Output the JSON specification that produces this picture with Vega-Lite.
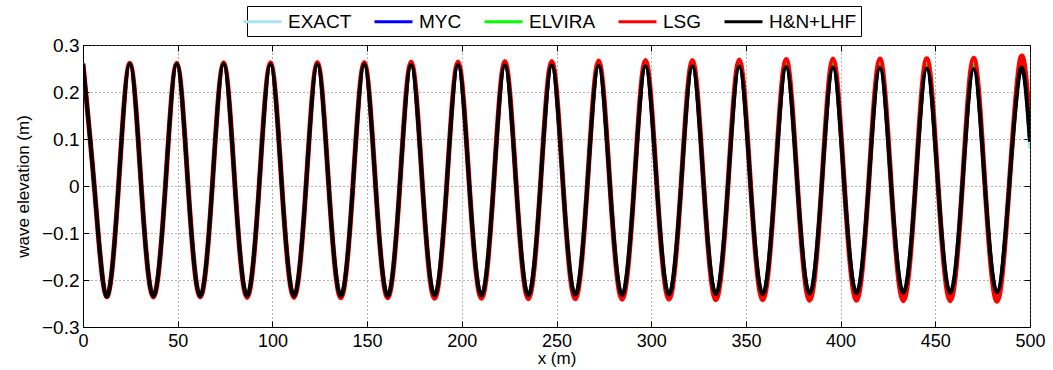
{
  "$schema": "https://vega.github.io/schema/vega-lite/v6.json",
  "width": 947,
  "height": 282,
  "autosize": "none",
  "padding": {"left": 83, "top": 45, "right": 23, "bottom": 43},
  "background": "white",
  "config": {"view": {"stroke": "black", "strokeWidth": 1}},
  "data": {"values": [
    {"x": 0, "EXACT": 0.26, "MYC": 0.26, "ELVIRA": 0.26, "LSG": 0.26, "H&N+LHF": 0.26},
    {"x": 6.19, "EXACT": -0.012, "MYC": -0.012, "ELVIRA": -0.012, "LSG": -0.012, "H&N+LHF": -0.012},
    {"x": 12.38, "EXACT": -0.235, "MYC": -0.235, "ELVIRA": -0.235, "LSG": -0.235, "H&N+LHF": -0.235},
    {"x": 18.56, "EXACT": -0.012, "MYC": -0.012, "ELVIRA": -0.012, "LSG": -0.012, "H&N+LHF": -0.012},
    {"x": 24.75, "EXACT": 0.26, "MYC": 0.26, "ELVIRA": 0.26, "LSG": 0.261, "H&N+LHF": 0.26},
    {"x": 30.94, "EXACT": -0.012, "MYC": -0.012, "ELVIRA": -0.012, "LSG": -0.012, "H&N+LHF": -0.012},
    {"x": 37.13, "EXACT": -0.235, "MYC": -0.235, "ELVIRA": -0.235, "LSG": -0.236, "H&N+LHF": -0.235},
    {"x": 43.31, "EXACT": -0.012, "MYC": -0.012, "ELVIRA": -0.012, "LSG": -0.012, "H&N+LHF": -0.012},
    {"x": 49.5, "EXACT": 0.26, "MYC": 0.259, "ELVIRA": 0.26, "LSG": 0.261, "H&N+LHF": 0.26},
    {"x": 55.69, "EXACT": -0.012, "MYC": -0.012, "ELVIRA": -0.012, "LSG": -0.012, "H&N+LHF": -0.012},
    {"x": 61.88, "EXACT": -0.235, "MYC": -0.235, "ELVIRA": -0.235, "LSG": -0.236, "H&N+LHF": -0.235},
    {"x": 68.06, "EXACT": -0.012, "MYC": -0.012, "ELVIRA": -0.012, "LSG": -0.012, "H&N+LHF": -0.012},
    {"x": 74.25, "EXACT": 0.26, "MYC": 0.259, "ELVIRA": 0.26, "LSG": 0.262, "H&N+LHF": 0.26},
    {"x": 80.44, "EXACT": -0.012, "MYC": -0.012, "ELVIRA": -0.012, "LSG": -0.012, "H&N+LHF": -0.012},
    {"x": 86.63, "EXACT": -0.235, "MYC": -0.234, "ELVIRA": -0.235, "LSG": -0.237, "H&N+LHF": -0.234},
    {"x": 92.81, "EXACT": -0.012, "MYC": -0.012, "ELVIRA": -0.012, "LSG": -0.012, "H&N+LHF": -0.012},
    {"x": 99, "EXACT": 0.26, "MYC": 0.259, "ELVIRA": 0.26, "LSG": 0.262, "H&N+LHF": 0.259},
    {"x": 105.19, "EXACT": -0.012, "MYC": -0.012, "ELVIRA": -0.012, "LSG": -0.012, "H&N+LHF": -0.012},
    {"x": 111.38, "EXACT": -0.235, "MYC": -0.234, "ELVIRA": -0.235, "LSG": -0.237, "H&N+LHF": -0.234},
    {"x": 117.56, "EXACT": -0.012, "MYC": -0.012, "ELVIRA": -0.012, "LSG": -0.012, "H&N+LHF": -0.012},
    {"x": 123.75, "EXACT": 0.26, "MYC": 0.258, "ELVIRA": 0.26, "LSG": 0.263, "H&N+LHF": 0.259},
    {"x": 129.94, "EXACT": -0.012, "MYC": -0.012, "ELVIRA": -0.012, "LSG": -0.012, "H&N+LHF": -0.012},
    {"x": 136.13, "EXACT": -0.235, "MYC": -0.234, "ELVIRA": -0.235, "LSG": -0.238, "H&N+LHF": -0.234},
    {"x": 142.31, "EXACT": -0.012, "MYC": -0.012, "ELVIRA": -0.012, "LSG": -0.012, "H&N+LHF": -0.012},
    {"x": 148.5, "EXACT": 0.26, "MYC": 0.258, "ELVIRA": 0.26, "LSG": 0.263, "H&N+LHF": 0.259},
    {"x": 154.69, "EXACT": -0.012, "MYC": -0.012, "ELVIRA": -0.012, "LSG": -0.012, "H&N+LHF": -0.012},
    {"x": 160.88, "EXACT": -0.235, "MYC": -0.233, "ELVIRA": -0.235, "LSG": -0.238, "H&N+LHF": -0.234},
    {"x": 167.06, "EXACT": -0.012, "MYC": -0.012, "ELVIRA": -0.012, "LSG": -0.012, "H&N+LHF": -0.012},
    {"x": 173.25, "EXACT": 0.26, "MYC": 0.258, "ELVIRA": 0.259, "LSG": 0.264, "H&N+LHF": 0.258},
    {"x": 179.44, "EXACT": -0.012, "MYC": -0.012, "ELVIRA": -0.012, "LSG": -0.012, "H&N+LHF": -0.012},
    {"x": 185.63, "EXACT": -0.235, "MYC": -0.233, "ELVIRA": -0.234, "LSG": -0.239, "H&N+LHF": -0.233},
    {"x": 191.81, "EXACT": -0.012, "MYC": -0.012, "ELVIRA": -0.012, "LSG": -0.012, "H&N+LHF": -0.012},
    {"x": 198, "EXACT": 0.26, "MYC": 0.258, "ELVIRA": 0.259, "LSG": 0.264, "H&N+LHF": 0.258},
    {"x": 204.19, "EXACT": -0.012, "MYC": -0.012, "ELVIRA": -0.012, "LSG": -0.012, "H&N+LHF": -0.012},
    {"x": 210.38, "EXACT": -0.235, "MYC": -0.233, "ELVIRA": -0.234, "LSG": -0.239, "H&N+LHF": -0.233},
    {"x": 216.56, "EXACT": -0.012, "MYC": -0.012, "ELVIRA": -0.012, "LSG": -0.012, "H&N+LHF": -0.012},
    {"x": 222.75, "EXACT": 0.26, "MYC": 0.257, "ELVIRA": 0.259, "LSG": 0.265, "H&N+LHF": 0.257},
    {"x": 228.94, "EXACT": -0.012, "MYC": -0.012, "ELVIRA": -0.012, "LSG": -0.012, "H&N+LHF": -0.012},
    {"x": 235.13, "EXACT": -0.235, "MYC": -0.232, "ELVIRA": -0.234, "LSG": -0.24, "H&N+LHF": -0.233},
    {"x": 241.31, "EXACT": -0.012, "MYC": -0.012, "ELVIRA": -0.012, "LSG": -0.012, "H&N+LHF": -0.012},
    {"x": 247.5, "EXACT": 0.26, "MYC": 0.257, "ELVIRA": 0.259, "LSG": 0.265, "H&N+LHF": 0.257},
    {"x": 253.69, "EXACT": -0.012, "MYC": -0.012, "ELVIRA": -0.012, "LSG": -0.012, "H&N+LHF": -0.012},
    {"x": 259.88, "EXACT": -0.235, "MYC": -0.232, "ELVIRA": -0.234, "LSG": -0.24, "H&N+LHF": -0.232},
    {"x": 266.06, "EXACT": -0.012, "MYC": -0.012, "ELVIRA": -0.012, "LSG": -0.012, "H&N+LHF": -0.012},
    {"x": 272.25, "EXACT": 0.26, "MYC": 0.257, "ELVIRA": 0.259, "LSG": 0.266, "H&N+LHF": 0.256},
    {"x": 278.44, "EXACT": -0.012, "MYC": -0.012, "ELVIRA": -0.012, "LSG": -0.012, "H&N+LHF": -0.012},
    {"x": 284.63, "EXACT": -0.235, "MYC": -0.232, "ELVIRA": -0.234, "LSG": -0.241, "H&N+LHF": -0.232},
    {"x": 290.81, "EXACT": -0.012, "MYC": -0.012, "ELVIRA": -0.012, "LSG": -0.012, "H&N+LHF": -0.012},
    {"x": 297, "EXACT": 0.26, "MYC": 0.256, "ELVIRA": 0.259, "LSG": 0.267, "H&N+LHF": 0.255},
    {"x": 303.19, "EXACT": -0.012, "MYC": -0.012, "ELVIRA": -0.012, "LSG": -0.012, "H&N+LHF": -0.012},
    {"x": 309.38, "EXACT": -0.235, "MYC": -0.231, "ELVIRA": -0.234, "LSG": -0.241, "H&N+LHF": -0.231},
    {"x": 315.56, "EXACT": -0.012, "MYC": -0.012, "ELVIRA": -0.012, "LSG": -0.012, "H&N+LHF": -0.012},
    {"x": 321.75, "EXACT": 0.26, "MYC": 0.256, "ELVIRA": 0.259, "LSG": 0.267, "H&N+LHF": 0.255},
    {"x": 327.94, "EXACT": -0.012, "MYC": -0.012, "ELVIRA": -0.012, "LSG": -0.012, "H&N+LHF": -0.012},
    {"x": 334.13, "EXACT": -0.235, "MYC": -0.231, "ELVIRA": -0.233, "LSG": -0.242, "H&N+LHF": -0.23},
    {"x": 340.31, "EXACT": -0.012, "MYC": -0.012, "ELVIRA": -0.012, "LSG": -0.012, "H&N+LHF": -0.012},
    {"x": 346.5, "EXACT": 0.26, "MYC": 0.256, "ELVIRA": 0.258, "LSG": 0.268, "H&N+LHF": 0.254},
    {"x": 352.69, "EXACT": -0.012, "MYC": -0.012, "ELVIRA": -0.012, "LSG": -0.012, "H&N+LHF": -0.012},
    {"x": 358.88, "EXACT": -0.235, "MYC": -0.231, "ELVIRA": -0.233, "LSG": -0.242, "H&N+LHF": -0.23},
    {"x": 365.06, "EXACT": -0.012, "MYC": -0.012, "ELVIRA": -0.012, "LSG": -0.012, "H&N+LHF": -0.012},
    {"x": 371.25, "EXACT": 0.26, "MYC": 0.255, "ELVIRA": 0.258, "LSG": 0.269, "H&N+LHF": 0.253},
    {"x": 377.44, "EXACT": -0.012, "MYC": -0.012, "ELVIRA": -0.012, "LSG": -0.012, "H&N+LHF": -0.012},
    {"x": 383.63, "EXACT": -0.235, "MYC": -0.23, "ELVIRA": -0.233, "LSG": -0.243, "H&N+LHF": -0.229},
    {"x": 389.81, "EXACT": -0.012, "MYC": -0.012, "ELVIRA": -0.012, "LSG": -0.012, "H&N+LHF": -0.012},
    {"x": 396, "EXACT": 0.26, "MYC": 0.255, "ELVIRA": 0.258, "LSG": 0.27, "H&N+LHF": 0.252},
    {"x": 402.19, "EXACT": -0.012, "MYC": -0.012, "ELVIRA": -0.012, "LSG": -0.012, "H&N+LHF": -0.012},
    {"x": 408.38, "EXACT": -0.235, "MYC": -0.23, "ELVIRA": -0.233, "LSG": -0.243, "H&N+LHF": -0.228},
    {"x": 414.56, "EXACT": -0.012, "MYC": -0.012, "ELVIRA": -0.012, "LSG": -0.012, "H&N+LHF": -0.012},
    {"x": 420.75, "EXACT": 0.26, "MYC": 0.255, "ELVIRA": 0.258, "LSG": 0.27, "H&N+LHF": 0.251},
    {"x": 426.94, "EXACT": -0.012, "MYC": -0.012, "ELVIRA": -0.012, "LSG": -0.012, "H&N+LHF": -0.012},
    {"x": 433.13, "EXACT": -0.235, "MYC": -0.23, "ELVIRA": -0.232, "LSG": -0.244, "H&N+LHF": -0.227},
    {"x": 439.31, "EXACT": -0.012, "MYC": -0.012, "ELVIRA": -0.012, "LSG": -0.012, "H&N+LHF": -0.012},
    {"x": 445.5, "EXACT": 0.26, "MYC": 0.254, "ELVIRA": 0.257, "LSG": 0.271, "H&N+LHF": 0.25},
    {"x": 451.69, "EXACT": -0.012, "MYC": -0.012, "ELVIRA": -0.012, "LSG": -0.012, "H&N+LHF": -0.012},
    {"x": 457.88, "EXACT": -0.235, "MYC": -0.229, "ELVIRA": -0.232, "LSG": -0.244, "H&N+LHF": -0.227},
    {"x": 464.06, "EXACT": -0.012, "MYC": -0.012, "ELVIRA": -0.012, "LSG": -0.012, "H&N+LHF": -0.012},
    {"x": 470.25, "EXACT": 0.26, "MYC": 0.254, "ELVIRA": 0.257, "LSG": 0.272, "H&N+LHF": 0.249},
    {"x": 476.44, "EXACT": -0.012, "MYC": -0.012, "ELVIRA": -0.012, "LSG": -0.012, "H&N+LHF": -0.012},
    {"x": 482.63, "EXACT": -0.235, "MYC": -0.229, "ELVIRA": -0.232, "LSG": -0.245, "H&N+LHF": -0.226},
    {"x": 488.81, "EXACT": -0.012, "MYC": -0.012, "ELVIRA": -0.012, "LSG": -0.012, "H&N+LHF": -0.012},
    {"x": 495, "EXACT": 0.26, "MYC": 0.254, "ELVIRA": 0.257, "LSG": 0.272, "H&N+LHF": 0.249},
    {"x": 500, "EXACT": 0.08, "MYC": 0.094, "ELVIRA": 0.094, "LSG": 0.126, "H&N+LHF": 0.094}
  ]},
  "transform": [{"fold": ["EXACT", "MYC", "ELVIRA", "LSG", "H&N+LHF"], "as": ["series", "eta"]}],
  "encoding": {
    "x": {"field": "x", "type": "quantitative", "scale": {"domain": [0, 500], "nice": false, "zero": false}, "axis": null},
    "y": {"field": "eta", "type": "quantitative", "scale": {"domain": [-0.3, 0.3], "nice": false, "zero": false}, "axis": null},
    "color": {
      "field": "series", "type": "nominal",
      "scale": {"domain": ["EXACT", "MYC", "ELVIRA", "LSG", "H&N+LHF"], "range": ["#a8e2fa", "#0000ff", "#00ff00", "#ff0000", "#000000"]},
      "legend": {
        "orient": "none", "legendX": 164, "legendY": -39, "direction": "horizontal", "title": null,
        "symbolType": "M-1.9,0L1.9,0", "symbolSize": 400, "symbolStrokeWidth": 3,
        "labelFont": "Liberation Sans", "labelFontSize": 19, "labelColor": "black", "labelOffset": 14, "labelLimit": 0,
        "columnPadding": 16, "padding": 4, "strokeColor": "black", "fillColor": "white"
      }
    }
  },
  "resolve": {"axis": {"x": "independent", "y": "independent"}},
  "layer": [
    {
      "transform": [{"filter": "datum.series === 'EXACT'"}],
      "mark": {"type": "line", "interpolate": "natural", "strokeWidth": 4, "clip": true},
      "encoding": {
        "x": {"field": "x", "type": "quantitative", "scale": {"domain": [0, 500], "nice": false, "zero": false},
          "axis": {"orient": "bottom", "values": [0, 50, 100, 150, 200, 250, 300, 350, 400, 450, 500], "grid": true, "gridDash": [1, 3], "gridColor": "#666", "gridWidth": 1,
            "tickSize": -6, "tickColor": "black", "domainColor": "black", "labelFont": "Liberation Sans", "labelFontSize": 18, "labelColor": "black", "labelPadding": 11, "labelFlush": false, "labelOverlap": false,
            "title": "x (m)", "titleFont": "Liberation Sans", "titleFontSize": 17, "titleFontWeight": "normal", "titleColor": "black", "titlePadding": 0}},
        "y": {"field": "eta", "type": "quantitative", "scale": {"domain": [-0.3, 0.3], "nice": false, "zero": false},
          "axis": {"orient": "left", "values": [-0.3, -0.2, -0.1, 0, 0.1, 0.2, 0.3], "format": ".1~f", "grid": true, "gridDash": [1, 3], "gridColor": "#666", "gridWidth": 1,
            "tickSize": -6, "tickColor": "black", "domainColor": "black", "labelFont": "Liberation Sans", "labelFontSize": 19, "labelColor": "black", "labelPadding": 10, "labelFlush": false, "labelOverlap": false,
            "title": "wave elevation (m)", "titleFont": "Liberation Sans", "titleFontSize": 17, "titleFontWeight": "normal", "titleColor": "black", "titlePadding": 9}}
      }
    },
    {
      "transform": [{"filter": "datum.series === 'MYC'"}],
      "mark": {"type": "line", "interpolate": "natural", "strokeWidth": 3.5, "clip": true},
      "encoding": {
        "x": {"field": "x", "type": "quantitative", "scale": {"domain": [0, 500], "nice": false, "zero": false},
          "axis": {"orient": "top", "values": [0, 50, 100, 150, 200, 250, 300, 350, 400, 450, 500], "grid": false, "labels": false, "domain": false, "title": null, "tickSize": -6, "tickColor": "black"}},
        "y": {"field": "eta", "type": "quantitative", "scale": {"domain": [-0.3, 0.3], "nice": false, "zero": false},
          "axis": {"orient": "right", "values": [-0.3, -0.2, -0.1, 0, 0.1, 0.2, 0.3], "grid": false, "labels": false, "domain": false, "title": null, "tickSize": -6, "tickColor": "black"}}
      }
    },
    {
      "transform": [{"filter": "datum.series === 'ELVIRA'"}],
      "mark": {"type": "line", "interpolate": "natural", "strokeWidth": 3.5, "clip": true}
    },
    {
      "transform": [{"filter": "datum.series === 'LSG'"}],
      "mark": {"type": "line", "interpolate": "natural", "strokeWidth": 5, "clip": true}
    },
    {
      "transform": [{"filter": "datum.series === 'H&N+LHF'"}],
      "mark": {"type": "line", "interpolate": "natural", "strokeWidth": 4, "clip": true}
    }
  ]
}
